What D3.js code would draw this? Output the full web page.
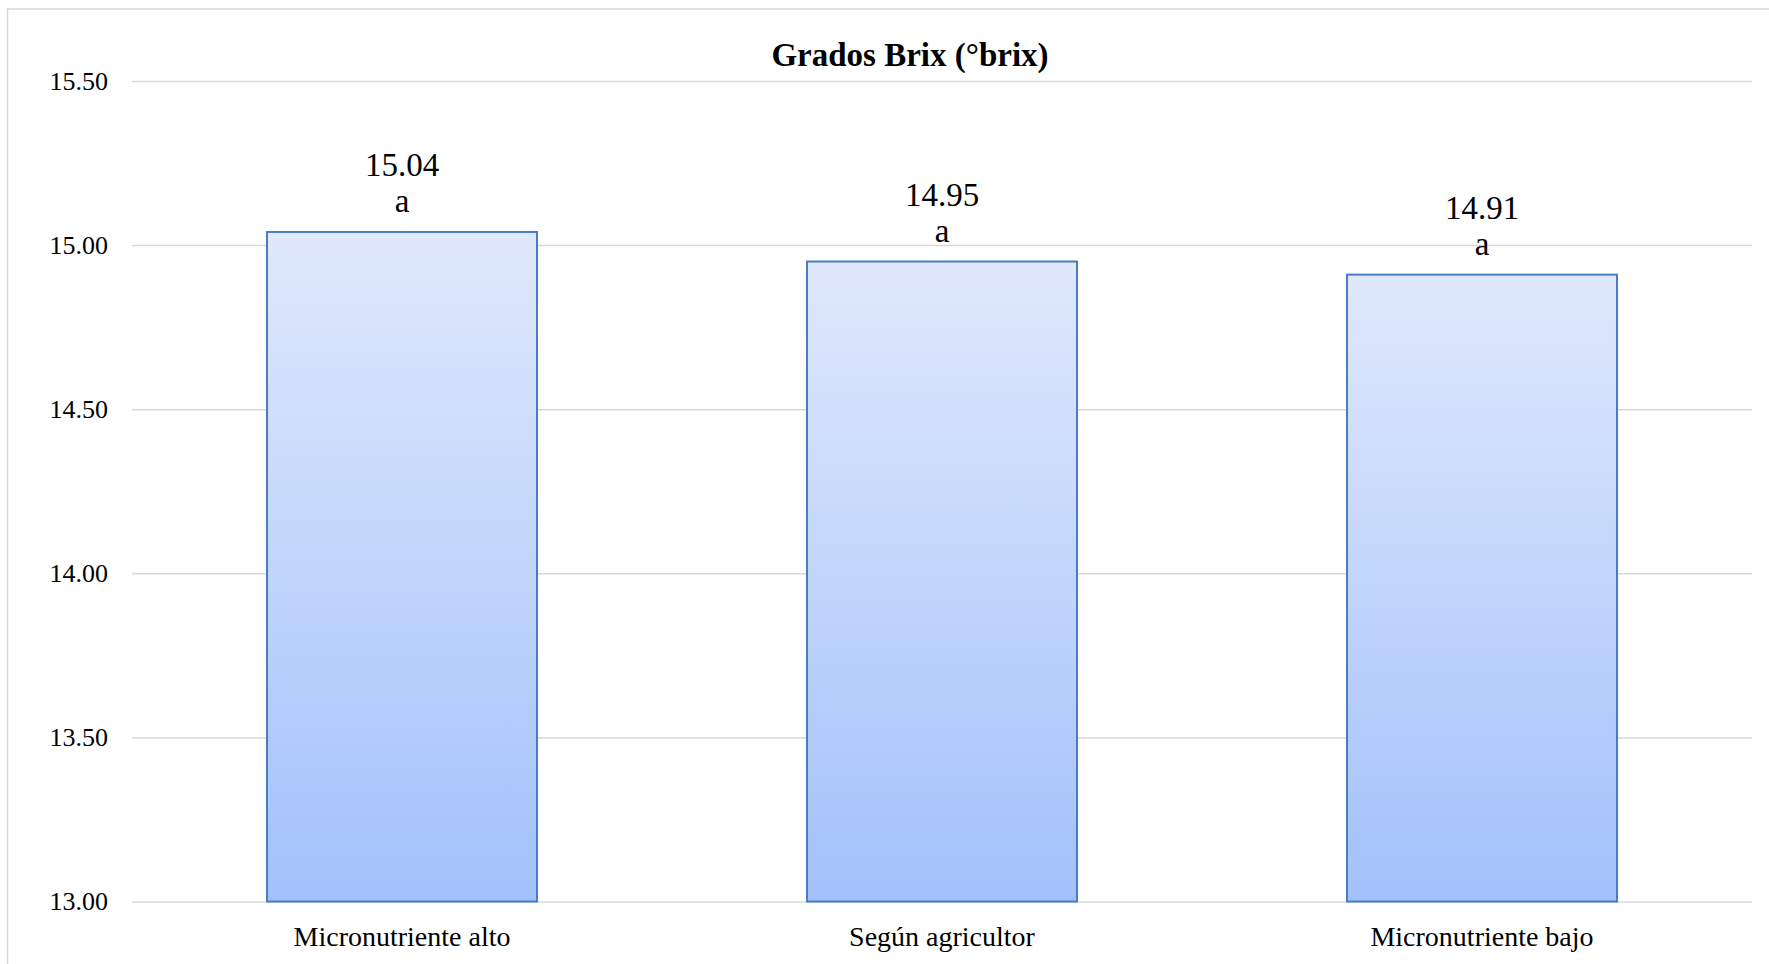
<!DOCTYPE html>
<html>
<head>
<meta charset="utf-8">
<script src="https://cdn.jsdelivr.net/npm/d3@7"></script>
<style>
  html, body { margin: 0; padding: 0; background: #fff; }
  svg { display: block; }
</style>
</head>
<body>
<div id="chart"></div>
<script>
// data
const categories = ["Micronutriente alto", "Según agricultor", "Micronutriente bajo"];
const brixValues = [15.04, 14.95, 14.91];
const letters = ["a", "a", "a"];
const yTicks = [13.0, 13.5, 14.0, 14.5, 15.0, 15.5];

const width = 1769;
const height = 964;
const margin = { top: 81, right: 17, bottom: 62.5, left: 132 };

const svg = d3.select("#chart")
  .append("svg")
  .attr("width", width)
  .attr("height", height);

// outer chart frame
svg.append("rect")
  .attr("x", 7.5)
  .attr("y", 9)
  .attr("width", width + 20)
  .attr("height", height + 20)
  .attr("fill", "none")
  .attr("stroke", "#d9d9d9")
  .attr("stroke-width", 1.5);

const defs = svg.append("defs");
const grad = defs.append("linearGradient")
  .attr("id", "barGrad")
  .attr("x1", 0).attr("y1", 0)
  .attr("x2", 0).attr("y2", 1);
grad.append("stop").attr("offset", "0%").attr("stop-color", "#e0e9fb");
grad.append("stop").attr("offset", "100%").attr("stop-color", "#a2c1fb");

const x = d3.scaleBand()
  .domain(categories)
  .range([margin.left, width - margin.right])
  .paddingInner(0.5)
  .paddingOuter(0.25);

const y = d3.scaleLinear()
  .domain([13, 15.5])
  .range([height - margin.bottom, margin.top]);

// gridlines + tick labels
const yAxis = d3.axisLeft(y)
  .tickValues(yTicks)
  .tickFormat(d3.format(".2f"))
  .tickSize(-(width - margin.right - margin.left))
  .tickPadding(24);

const gy = svg.append("g")
  .attr("transform", `translate(${margin.left},0)`)
  .call(yAxis);
gy.select(".domain").remove();
gy.selectAll(".tick line")
  .attr("stroke", "#d9d9d9")
  .attr("stroke-width", 1.5);
gy.selectAll(".tick text")
  .attr("fill", "#000")
  .style("font-family", "'Liberation Serif', serif")
  .style("font-size", "26px");

// bars
svg.selectAll("rect.bar")
  .data(brixValues)
  .enter()
  .append("rect")
  .attr("class", "bar")
  .attr("x", (d, i) => x(categories[i]))
  .attr("y", d => y(d))
  .attr("width", x.bandwidth())
  .attr("height", d => y(13) - y(d))
  .attr("fill", "url(#barGrad)")
  .attr("stroke", "#4a7cc2")
  .attr("stroke-width", 2);

// value labels
svg.selectAll("text.val")
  .data(brixValues)
  .enter()
  .append("text")
  .attr("class", "val")
  .attr("x", (d, i) => x(categories[i]) + x.bandwidth() / 2)
  .attr("y", d => y(d) - 56)
  .attr("text-anchor", "middle")
  .style("font-family", "'Liberation Serif', serif")
  .style("font-size", "33px")
  .text(d => d.toFixed(2));

svg.selectAll("text.letter")
  .data(brixValues)
  .enter()
  .append("text")
  .attr("class", "letter")
  .attr("x", (d, i) => x(categories[i]) + x.bandwidth() / 2)
  .attr("y", d => y(d) - 20)
  .attr("text-anchor", "middle")
  .style("font-family", "'Liberation Serif', serif")
  .style("font-size", "33px")
  .text((d, i) => letters[i]);

// category labels
svg.selectAll("text.cat")
  .data(categories)
  .enter()
  .append("text")
  .attr("class", "cat")
  .attr("x", d => x(d) + x.bandwidth() / 2)
  .attr("y", 946)
  .attr("text-anchor", "middle")
  .style("font-family", "'Liberation Serif', serif")
  .style("font-size", "28px")
  .text(d => d);

// title
svg.append("text")
  .attr("x", 910)
  .attr("y", 66)
  .attr("text-anchor", "middle")
  .style("font-family", "'Liberation Serif', serif")
  .style("font-weight", "bold")
  .style("font-size", "33px")
  .text("Grados Brix (°brix)");
</script>
</body>
</html>
